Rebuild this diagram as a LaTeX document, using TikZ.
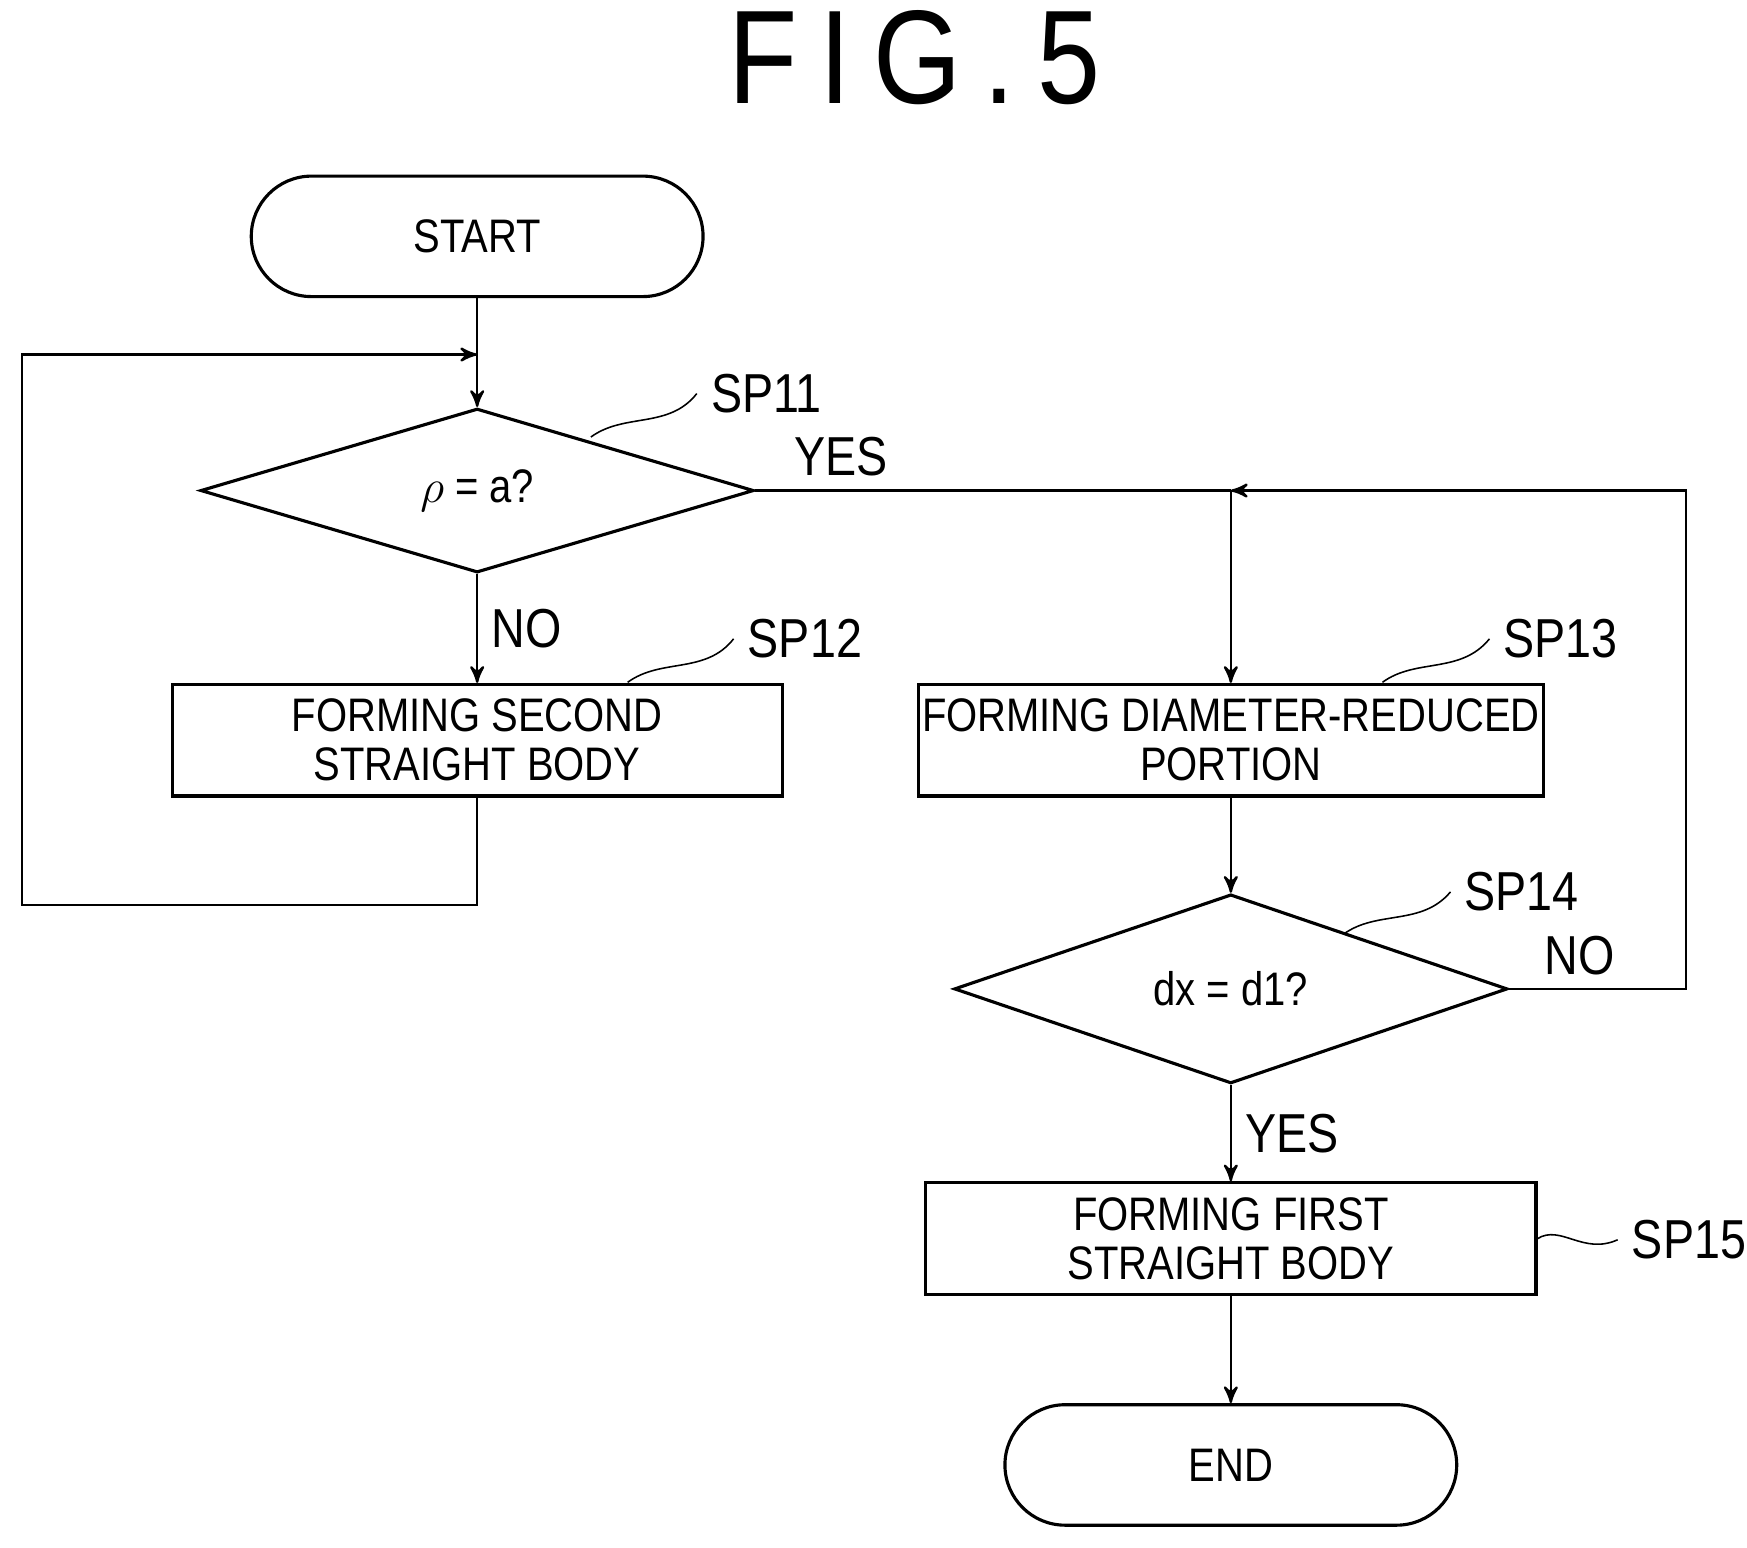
\documentclass[tikz,border=0pt]{standalone}
\usepackage{fontspec}
\setmainfont{Liberation Sans}[FakeStretch=0.85]
\usetikzlibrary{positioning,arrows,shapes.geometric}

\begin{document}
\begin{tikzpicture}[x=0.01cm,y=-0.01cm,>=stealth',semithick]
    \tikzstyle{every node}=[font=\fontsize{12}{12.5}\selectfont]
    \tikzstyle{term}=[draw,thick,rounded corners=0.54cm,minimum width=4.05cm,minimum height=1.08cm]
    \tikzstyle{proc}=[draw,thick,minimum width=5.47cm,minimum height=1cm,align=center,inner sep=1pt]
    \tikzstyle{dec}=[draw,thick,diamond,minimum width=4.96cm,minimum height=1.47cm,inner sep=0pt]
    \tikzstyle{lbl}=[anchor=west,font=\fontsize{14}{14}\selectfont]
    \useasboundingbox (0,0) rectangle (1567,1388);

    \node[font=\fontsize{34}{34}\selectfont] (title) at (820,52) {F\,I\,G\,.\,5};
    \node[term] (start) at (428,212) {START};
    \node[dec] (sp11) at (428,440) {$\rho$ = a?};
    \node[proc] (sp12) at (428,664) {FORMING SECOND\\STRAIGHT BODY};
    \node[proc] (sp13) at (1104,664) {FORMING DIAMETER-REDUCED\\PORTION};
    \node[dec] (sp14) at (1104,887) {dx = d1?};
    \node[proc] (sp15) at (1104,1111) {FORMING FIRST\\STRAIGHT BODY};
    \node[term] (end) at (1104,1314) {END};

    \coordinate (j1) at (428,318);
    \coordinate (j2) at (1104,440);
    \node[lbl] (t11) at (625,353) {SP11};
    \node[lbl] (t12) at (658,573) {SP12};
    \node[lbl] (t13) at (1336,573) {SP13};
    \node[lbl] (t14) at (1301,800) {SP14};
    \node[lbl] (t15) at (1451,1112) {SP15};

    % connectors
    \draw[->] (start) -- (sp11);
    \draw[->] (sp11) -- node[right,font=\fontsize{14}{14}\selectfont] {NO} (sp12);
    \draw[->] (sp12.south) -- (428,812) -- (20,812) -- (20,318) -- (j1);
    \draw (sp11.east) -- node[pos=0.18,above,font=\fontsize{14}{14}\selectfont] {YES} (j2);
    \draw[->] (j2) -- (sp13);
    \draw[->] (sp13) -- (sp14);
    \draw (sp14.east) -- node[pos=0.4,above,font=\fontsize{14}{14}\selectfont] {NO} (1512,887) -- (1512,440) -- (1140,440);
    \draw[->] (1140,440) -- (j2);
    \draw[->] (sp14) -- node[right,font=\fontsize{14}{14}\selectfont] {YES} (sp15);
    \draw[->] (sp15) -- (end);

    % leader squiggles
    \draw[thin] (530,392) .. controls (560,370) and (600,385) .. (t11.west);
    \draw[thin] (563,612) .. controls (593,590) and (633,605) .. (t12.west);
    \draw[thin] (1240,612) .. controls (1270,590) and (1310,605) .. (t13.west);
    \draw[thin] (1205,838) .. controls (1235,816) and (1275,831) .. (t14.west);
    \draw[thin] (sp15.east) .. controls (1400,1098) and (1420,1126) .. (t15.west);
\end{tikzpicture}
\end{document}
